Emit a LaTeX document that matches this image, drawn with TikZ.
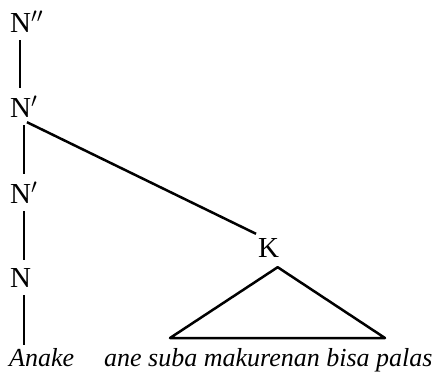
\documentclass[tikz,border=0pt]{standalone}
\usepackage{fontspec}
\setmainfont{Liberation Serif}
\tikzset{cat/.style={anchor=base west,inner sep=8pt,font=\fontsize{29}{30}\selectfont},
 leaf/.style={anchor=base west,inner sep=0pt,font=\fontsize{26}{30}\selectfont\itshape},
 branch/.style={line width=2.5pt}}
\begin{document}
\begin{tikzpicture}[x=1pt,y=-1pt]
 \useasboundingbox (0,0) rectangle (438,378);
 \node[cat] (Npp) at (2,32) {N$''$}; \node[cat] (Np) at (2,117) {N$'$};
 \node[cat] (Nq) at (2,203) {N$'$}; \node[cat] (N) at (2,287) {N};
 \node[cat] (K) at (250,257) {K};
 \node[leaf] (anake) at (9,366) {Anake}; \node[leaf] (rest) at (104,366) {ane suba makurenan bisa palas};
 \coordinate (tl) at (170,338); \coordinate (tr) at (385,338);
 \draw[branch] ([xshift=18pt]Npp.south west) -- ([xshift=18pt]Np.north west);
 \draw[branch] ([xshift=22pt]Np.south west) -- ([xshift=22pt]Nq.north west);
 \draw[branch] ([xshift=22pt]Nq.south west) -- ([xshift=22pt]N.north west);
 \draw[branch] ([xshift=22pt]N.south west) -- ([xshift=15pt,yshift=3pt]anake.north west);
 \draw[branch] ([xshift=25pt,yshift=3pt]Np.south west) -- ([xshift=6pt,yshift=-4pt]K.north west);
 \draw[branch,line join=round] ([xshift=9pt,yshift=-2pt]K.south) -- (tl) -- (tr) -- cycle;
\end{tikzpicture}
\end{document}
